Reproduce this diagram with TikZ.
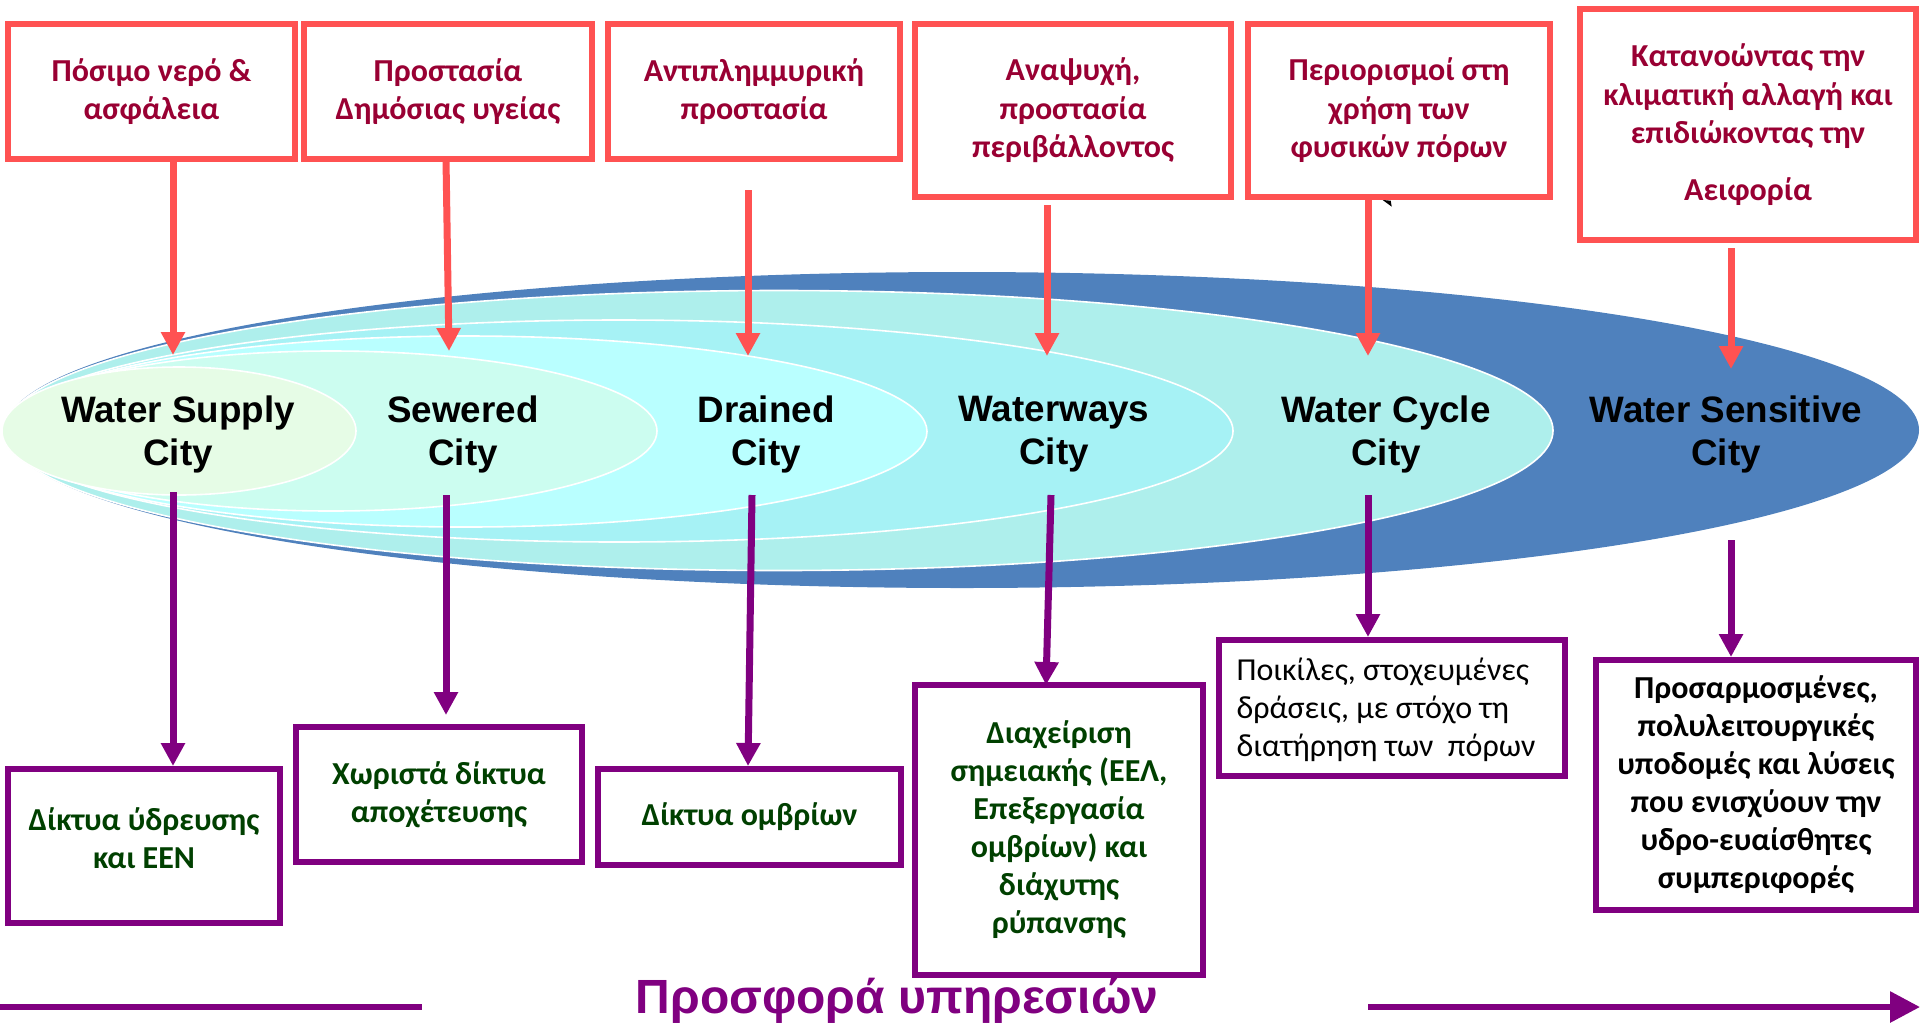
\documentclass[tikz,border=0pt]{standalone}
\usepackage{fontspec}
\usetikzlibrary{arrows.meta}
\newfontfamily\calibri{Carlito}
\newfontfamily\arialf{Liberation Sans}
\definecolor{boxred}{RGB}{255,82,82}
\definecolor{textred}{RGB}{153,0,51}
\definecolor{plum}{RGB}{128,0,128}
\definecolor{darkgreen}{RGB}{0,64,0}
\definecolor{cityblue}{RGB}{79,129,189}
\definecolor{cyclecol}{RGB}{174,239,236}
\definecolor{waycol}{RGB}{166,242,245}
\definecolor{draincol}{RGB}{185,255,255}
\definecolor{sewercol}{RGB}{204,253,240}
\definecolor{supplycol}{RGB}{230,252,230}
\begin{document}
\begin{tikzpicture}[x=0.5pt,y=-0.5pt,
  redbox/.style={draw=boxred, line width=3pt, fill=white, inner sep=0pt, align=center,
    text=textred, font=\calibri\bfseries\fontsize{16}{19.25}\selectfont},
  plumbox/.style={draw=plum, line width=3pt, fill=white, inner sep=0pt, align=center,
    font=\calibri\bfseries\fontsize{16}{19}\selectfont},
  greentext/.style={text=darkgreen},
  citylabel/.style={align=center, inner sep=0pt, text=black,
    font=\arialf\bfseries\fontsize{18.4}{21.5}\selectfont},
  rarrow/.style={draw=boxred, line width=3.5pt, -{Triangle[length=11.5pt,width=11.5pt]}},
  parrow/.style={draw=plum, line width=3.5pt, -{Triangle[length=11.5pt,width=11.5pt]}},
  ring/.style={draw=white, line width=0.8pt}
]
\useasboundingbox (0,0) rectangle (1920,1023);

% nested city ellipses, all sharing the left end
\fill[cityblue] (962,430) ellipse [x radius=478.5pt, y radius=79pt];
\filldraw[ring, fill=cyclecol] (779,430.5) ellipse [x radius=387pt, y radius=70pt];
\filldraw[ring, fill=waycol] (619,431) ellipse [x radius=307pt, y radius=55.5pt];
\filldraw[ring, fill=draincol] (466,431.5) ellipse [x radius=230.5pt, y radius=47.75pt];
\filldraw[ring, fill=sewercol] (331,431) ellipse [x radius=163pt, y radius=40pt];
\filldraw[ring, fill=supplycol] (179,431) ellipse [x radius=88.5pt, y radius=32pt];

% city labels
\node[citylabel] (c1) at (178,434) {Water Supply\\City};
\node[citylabel] (c2) at (463,434) {Sewered\\City};
\node[citylabel] (c3) at (766,434) {Drained\\City};
\node[citylabel] (c4) at (1054,434) {Waterways\\City};
\node[citylabel] (c5) at (1386,434) {Water Cycle\\City};
\node[citylabel] (c6) at (1726,434) {Water Sensitive\\City};

% goals (top row)
\node[redbox, minimum width=143.5pt, minimum height=67.5pt] (r1) at (151.5,91.5)
  {Πόσιμο νερό \&\\ασφάλεια};
\node[redbox, minimum width=144pt, minimum height=67.5pt] (r2) at (448,91.5)
  {Προστασία\\Δημόσιας υγείας};
\node[redbox, minimum width=146pt, minimum height=67.5pt] (r3) at (754,91.5)
  {Αντιπλημμυρική\\προστασία};
\node[redbox, minimum width=158pt, minimum height=86.5pt] (r4) at (1073,110.5)
  {Αναψυχή,\\προστασία\\περιβάλλοντος};
\node[redbox, minimum width=151pt, minimum height=86.5pt] (r5) at (1399,110.5)
  {Περιορισμοί στη\\χρήση των\\φυσικών πόρων};
\node[redbox, minimum width=168pt, minimum height=115.5pt] (r6) at (1748,124.5)
  {Κατανοώντας την\\κλιματική αλλαγή και\\επιδιώκοντας την\\[9pt]Αειφορία};

% arrow tips on the ellipses
\coordinate (t1) at (173,355);
\coordinate (t2) at (449,351);
\coordinate (t3) at (748,356);
\coordinate (t4) at (1047,356);
\coordinate (t5) at (1368,356);
\coordinate (t6) at (1731,369);
\draw[rarrow] (r1.south -| t1) -- (t1);
\draw[rarrow] (446,159) -- (t2);
\draw[rarrow, shorten <=14pt] (r3.south -| t3) -- (t3);
\draw[rarrow, shorten <=2.5pt] (r4.south -| t4) -- (t4);
\draw[rarrow] (r5.south -| t5) -- (t5);
\draw[rarrow, shorten <=2.5pt] (r6.south -| t6) -- (t6);
\fill[black] (1382.7,200) -- (1390.7,200.7) -- (1391.7,206.7) -- cycle;

% infrastructure (bottom row)
\node[plumbox, minimum width=136pt, minimum height=77pt] (p1) at (144,846) {};
\node[plumbox, draw=none, fill=none, greentext] (p1t) at (144,838) {Δίκτυα ύδρευσης\\και ΕΕΝ};
\node[plumbox, greentext, minimum width=143pt, minimum height=67.5pt] (p2) at (439,794.5)
  {Χωριστά δίκτυα\\αποχέτευσης};
\node[plumbox, greentext, minimum width=151.5pt, minimum height=48pt] (p3) at (749.5,817)
  {Δίκτυα ομβρίων};
\node[plumbox, greentext, minimum width=144pt, minimum height=145pt] (p4) at (1059,830)
  {Διαχείριση\\σημειακής (ΕΕΛ,\\Επεξεργασία\\ομβρίων) και\\διάχυτης\\ρύπανσης};
\node[plumbox, minimum width=173pt, minimum height=68pt] (p5) at (1392,708) {};
\node[align=left, inner sep=0pt, font=\calibri\fontsize{16}{19}\selectfont] (p5t) at (1386,710)
  {Ποικίλες, στοχευμένες\\δράσεις, με στόχο τη\\διατήρηση των~ πόρων};
\node[plumbox, minimum width=160pt, minimum height=125pt] (p6) at (1756,785)
  {Προσαρμοσμένες,\\πολυλειτουργικές\\υποδομές και λύσεις\\που ενισχύουν την\\υδρο-ευαίσθητες\\συμπεριφορές};

% arrows from the ellipses down to the boxes
\coordinate (s1) at (173,492);
\coordinate (s2) at (446,495);
\coordinate (s3) at (752,495);
\coordinate (s4) at (1051,495);
\coordinate (s5) at (1368,495);
\coordinate (s6) at (1731,540);
\draw[parrow] (s1) -- (s1 |- p1.north);
\draw[parrow, shorten >=4.5pt] (s2) -- (s2 |- p2.north);
\draw[parrow] (s3) -- (748,766);
\draw[parrow] (s4) -- (1046,685);
\draw[parrow] (s5) -- (s5 |- p5.north);
\draw[parrow] (s6) -- (s6 |- p6.north);

% service provision axis
\node[anchor=base, inner sep=0pt, text=plum, font=\arialf\bfseries\fontsize{24}{28}\selectfont]
  (offer) at (897,1013) {Προσφορά υπηρεσιών};
\coordinate (axL) at (0,1007);
\coordinate (axM) at (422,1007);
\coordinate (axN) at (1368,1007);
\coordinate (axR) at (1920,1007);
\draw[plum, line width=3pt] (axL) -- (axM);
\draw[plum, line width=3pt, -{Triangle[length=15pt,width=15pt]}] (axN) -- (axR);
\end{tikzpicture}
\end{document}
